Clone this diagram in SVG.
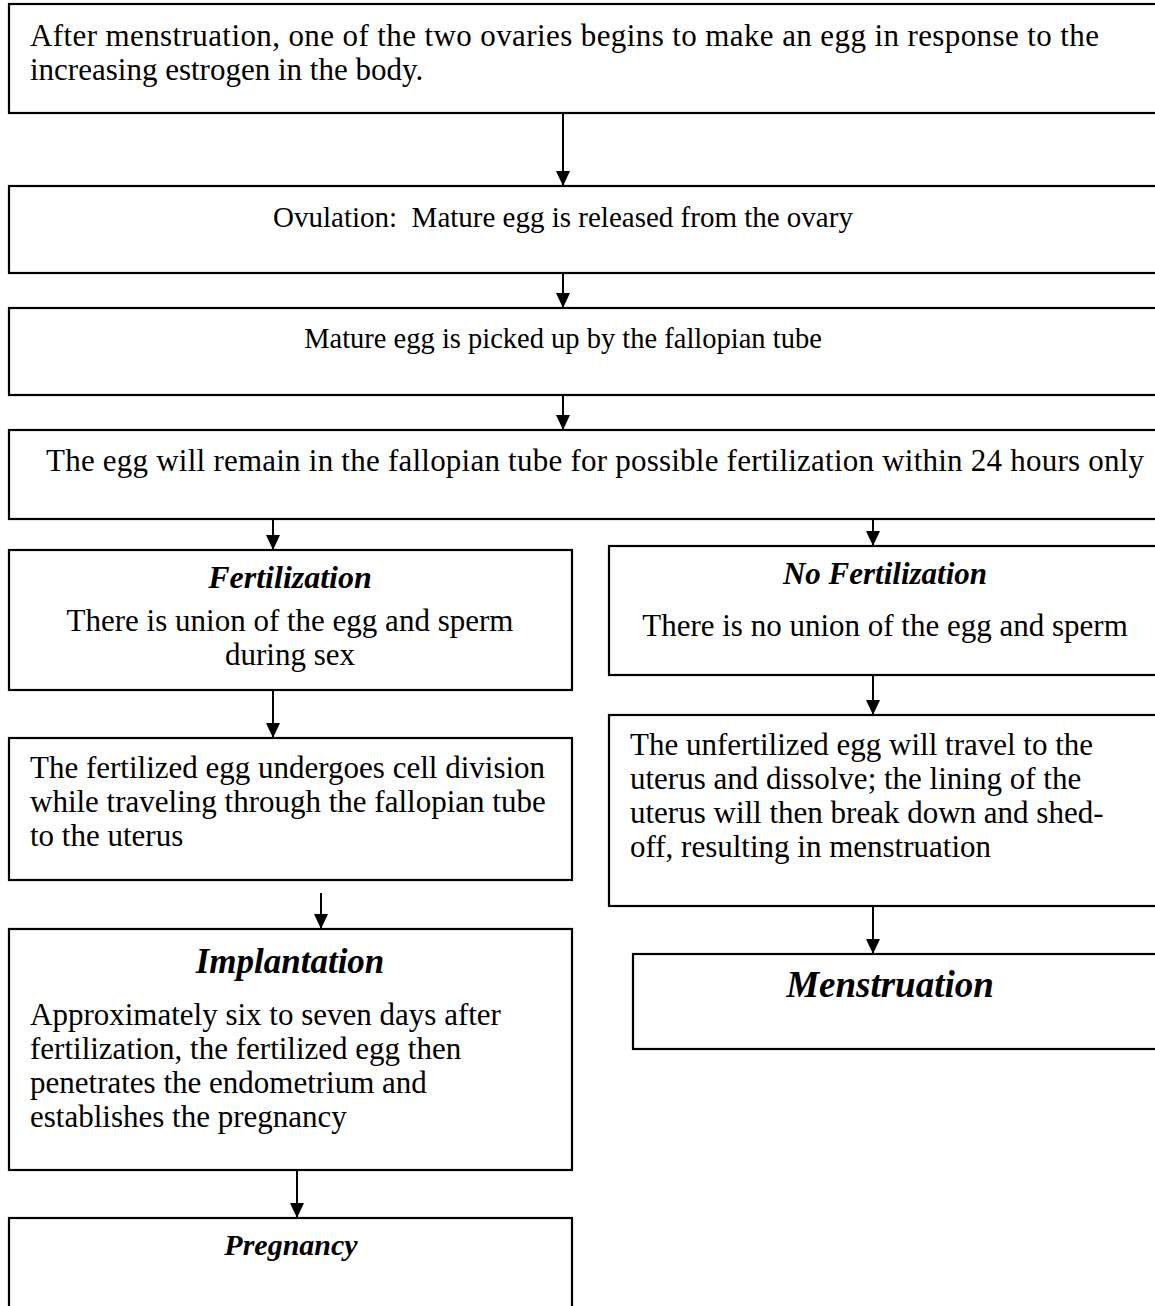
<svg xmlns="http://www.w3.org/2000/svg" width="1155" height="1306" viewBox="0 0 1155 1306">
<defs>
<marker id="ah" markerWidth="16" markerHeight="14" refX="15" refY="7" orient="auto" markerUnits="userSpaceOnUse">
<path d="M0,0 L15,7 L0,14 Z" fill="#000"/>
</marker>
<style>
.box{fill:#fff;stroke:#000;stroke-width:2.2}
.t{font-family:"Liberation Serif","DejaVu Serif",serif;font-size:31px;fill:#000}
.t.s{font-size:29px}
.t.s2{font-size:28.5px}
.c{text-anchor:middle}
.h{font-family:"Liberation Serif","DejaVu Serif",serif;font-weight:bold;font-style:italic;fill:#000;text-anchor:middle}
.con{stroke:#000;stroke-width:2;fill:none;marker-end:url(#ah)}
</style>
</defs>
<rect width="1155" height="1306" fill="#fff"/>
<g id="n1"><rect class="box" x="9" y="4" width="1160" height="109"/>
<text class="t" x="30" y="46" textLength="1069" lengthAdjust="spacing">After menstruation, one of the two ovaries begins to make an egg in response to the</text>
<text class="t" x="30" y="80">increasing estrogen in the body.</text></g>
<g id="n2"><rect class="box" x="9" y="186" width="1160" height="87"/>
<text class="t s c" x="563" y="227">Ovulation:&#160; Mature egg is released from the ovary</text></g>
<g id="n3"><rect class="box" x="9" y="308" width="1160" height="87"/>
<text class="t s2 c" x="563" y="348">Mature egg is picked up by the fallopian tube</text></g>
<g id="n4"><rect class="box" x="9" y="430" width="1160" height="89"/>
<text class="t" x="46" y="471" textLength="1098" lengthAdjust="spacing">The egg will remain in the fallopian tube for possible fertilization within 24 hours only</text></g>
<g id="n5"><rect class="box" x="9" y="550" width="563" height="140"/>
<text class="h" x="290" y="588" font-size="32">Fertilization</text>
<text class="t c" x="290" y="631">There is union of the egg and sperm</text>
<text class="t c" x="290" y="665">during sex</text></g>
<g id="n6"><rect class="box" x="609" y="546" width="560" height="129"/>
<text class="h" x="885" y="584" font-size="31">No Fertilization</text>
<text class="t c" x="885" y="636">There is no union of the egg and sperm</text></g>
<g id="n7"><rect class="box" x="9" y="738" width="563" height="142"/>
<text class="t" x="30" y="778">The fertilized egg undergoes cell division</text>
<text class="t" x="30" y="812">while traveling through the fallopian tube</text>
<text class="t" x="30" y="846">to the uterus</text></g>
<g id="n8"><rect class="box" x="609" y="715" width="560" height="191"/>
<text class="t" x="630" y="755">The unfertilized egg will travel to the</text>
<text class="t" x="630" y="789">uterus and dissolve; the lining of the</text>
<text class="t" x="630" y="823">uterus will then break down and shed-</text>
<text class="t" x="630" y="857">off, resulting in menstruation</text></g>
<g id="n9"><rect class="box" x="9" y="929" width="563" height="241"/>
<text class="h" x="290" y="973" font-size="35">Implantation</text>
<text class="t" x="30" y="1025">Approximately six to seven days after</text>
<text class="t" x="30" y="1059">fertilization, the fertilized egg then</text>
<text class="t" x="30" y="1093">penetrates the endometrium and</text>
<text class="t" x="30" y="1127">establishes the pregnancy</text></g>
<g id="n10"><rect class="box" x="633" y="954" width="540" height="95"/>
<text class="h" x="890" y="997" font-size="37">Menstruation</text></g>
<g id="n11"><rect class="box" x="9" y="1218" width="563" height="120"/>
<text class="h" x="291" y="1255" font-size="30">Pregnancy</text></g>
<g id="connectors">
<line class="con" x1="563" y1="114" x2="563" y2="186"/>
<line class="con" x1="563" y1="274" x2="563" y2="308"/>
<line class="con" x1="563" y1="396" x2="563" y2="430"/>
<line class="con" x1="273" y1="520" x2="273" y2="550"/>
<line class="con" x1="873" y1="520" x2="873" y2="546"/>
<line class="con" x1="273" y1="691" x2="273" y2="738"/>
<line class="con" x1="873" y1="676" x2="873" y2="715"/>
<line class="con" x1="321" y1="893" x2="321" y2="929"/>
<line class="con" x1="873" y1="907" x2="873" y2="954"/>
<line class="con" x1="297" y1="1171" x2="297" y2="1218"/>
</g>
</svg>
